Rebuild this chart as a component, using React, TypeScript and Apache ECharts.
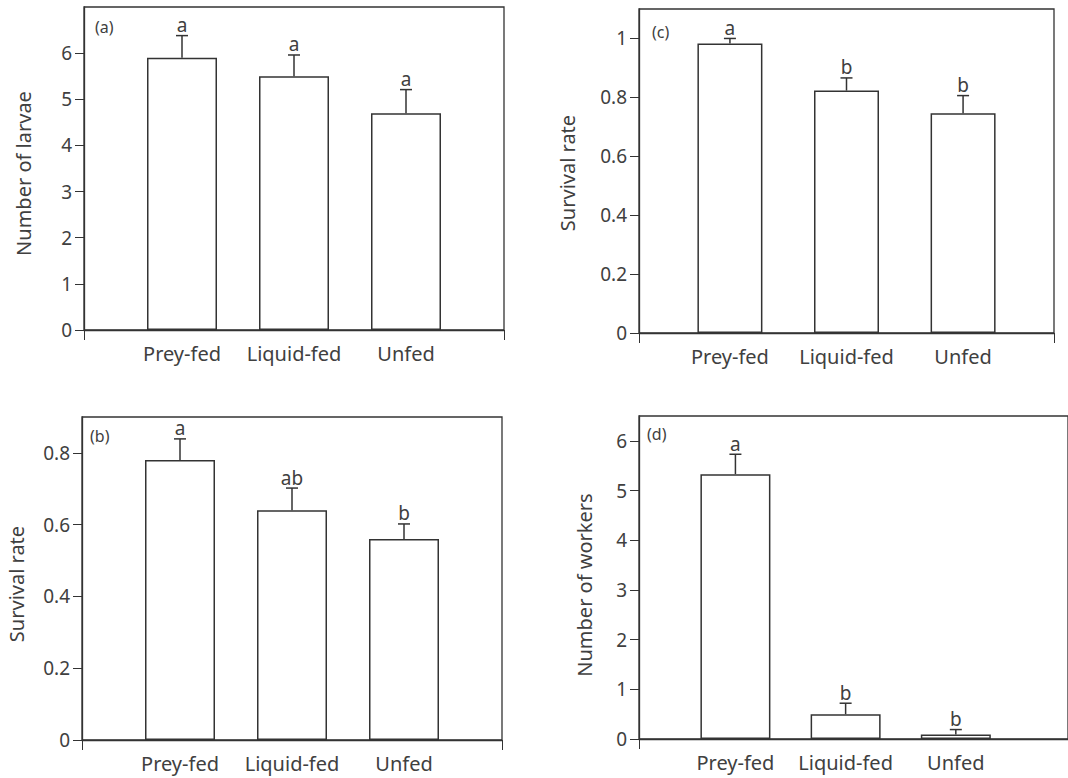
import React, { useEffect, useRef } from "react";
import * as echarts from "echarts";

const categories = ["Prey-fed", "Liquid-fed", "Unfed"];
const positions = [1, 2, 3];

// (a) Number of larvae
const larvaeMean = [5.9, 5.5, 4.7];
const larvaeUpper = [6.38, 5.96, 5.21];
const larvaeLetters = ["a", "a", "a"];
const larvaeTicks = [0, 1, 2, 3, 4, 5, 6];

// (b) Survival rate
const survivalBMean = [0.78, 0.64, 0.56];
const survivalBUpper = [0.839, 0.702, 0.602];
const survivalBLetters = ["a", "ab", "b"];
const survivalBTicks = [0, 0.2, 0.4, 0.6, 0.8];

// (c) Survival rate
const survivalCMean = [0.983, 0.823, 0.746];
const survivalCUpper = [1.0, 0.866, 0.806];
const survivalCLetters = ["a", "b", "b"];
const survivalCTicks = [0, 0.2, 0.4, 0.6, 0.8, 1];

// (d) Number of workers
const workersMean = [5.33, 0.5, 0.09];
const workersUpper = [5.73, 0.72, 0.19];
const workersLetters = ["a", "b", "b"];
const workersTicks = [0, 1, 2, 3, 4, 5, 6];

const FONT = "Noto Sans";
const TEXT = "#404040";
const LINE = "#333333";

const panels = [
  {
    label: "(a)", labelPos: [95, 27], yName: "Number of larvae", nameGap: 51, namePad: 10,
    mean: larvaeMean, upper: larvaeUpper, letters: larvaeLetters, ticks: larvaeTicks,
    yMax: 7, xMin: 0.125, xMax: 3.875, barWidth: 70,
    grid: { left: 84, top: 7, width: 420, height: 323 },
  },
  {
    label: "(c)", labelPos: [652, 32], yName: "Survival rate", nameGap: 62, namePad: 4,
    mean: survivalCMean, upper: survivalCUpper, letters: survivalCLetters, ticks: survivalCTicks,
    yMax: 1.1, xMin: 0.22, xMax: 3.78, barWidth: 65,
    grid: { left: 639, top: 9, width: 415, height: 324 },
  },
  {
    label: "(b)", labelPos: [90, 436], yName: "Survival rate", nameGap: 56, namePad: 11,
    mean: survivalBMean, upper: survivalBUpper, letters: survivalBLetters, ticks: survivalBTicks,
    yMax: 0.9, xMin: 0.125, xMax: 3.875, barWidth: 70,
    grid: { left: 82, top: 417, width: 420, height: 323 },
  },
  {
    label: "(d)", labelPos: [647, 434], yName: "Number of workers", nameGap: 45, namePad: 15,
    mean: workersMean, upper: workersUpper, letters: workersLetters, ticks: workersTicks,
    yMax: 6.5, xMin: 0.125, xMax: 4.018, barWidth: 70,
    grid: { left: 639, top: 416, width: 436, height: 323 },
  },
];

export default function App() {
  const ref = useRef<HTMLDivElement>(null);

  useEffect(() => {
    if (!ref.current) return;
    const chart = echarts.init(ref.current, null, { renderer: "svg" });

    const grid: any[] = [];
    const xAxis: any[] = [];
    const yAxis: any[] = [];
    const series: any[] = [];
    const graphic: any[] = [];

    panels.forEach((p, i) => {
      grid.push({
        ...p.grid,
        show: true,
        borderColor: LINE,
        borderWidth: 1.3,
        backgroundColor: "#ffffff",
        containLabel: false,
      });
      xAxis.push({
        type: "value",
        gridIndex: i,
        min: p.xMin,
        max: p.xMax,
        splitLine: { show: false },
        axisLine: { show: true, lineStyle: { color: LINE, width: 1.3 } },
        axisTick: {
          show: true,
          length: 10,
          customValues: [p.xMin, p.xMax],
          lineStyle: { color: LINE, width: 1 },
        },
        axisLabel: {
          show: true,
          customValues: positions,
          formatter: (v: number) => categories[Math.round(v) - 1] ?? "",
          margin: 13,
          fontSize: 20,
          color: TEXT,
          fontFamily: FONT,
        },
      });
      yAxis.push({
        type: "value",
        gridIndex: i,
        min: 0,
        max: p.yMax,
        name: p.yName,
        nameLocation: "middle",
        nameRotate: 90,
        nameGap: p.nameGap,
        nameTextStyle: {
          fontSize: 20,
          color: TEXT,
          fontFamily: FONT,
          padding: [0, p.namePad, 0, 0],
        },
        splitLine: { show: false },
        axisLine: { show: true, lineStyle: { color: LINE, width: 1.3 } },
        axisTick: {
          show: true,
          length: 9,
          customValues: p.ticks,
          lineStyle: { color: LINE, width: 1 },
        },
        axisLabel: {
          show: true,
          customValues: p.ticks,
          formatter: (v: number) => String(Math.round(v * 10) / 10),
          margin: 12,
          fontSize: 19,
          color: TEXT,
          fontFamily: FONT,
        },
      });
      series.push({
        type: "bar",
        xAxisIndex: i,
        yAxisIndex: i,
        barWidth: p.barWidth,
        data: positions.map((x, k) => [x, p.mean[k]]),
        itemStyle: { color: "#ffffff", borderColor: LINE, borderWidth: 1.5 },
        z: 2,
      });
      const letters = p.letters;
      series.push({
        type: "custom",
        xAxisIndex: i,
        yAxisIndex: i,
        z: 3,
        data: positions.map((x, k) => [x, p.mean[k], p.upper[k]]),
        encode: { x: 0, y: [1, 2] },
        renderItem: (params: any, api: any) => {
          const x = api.value(0);
          const m = api.value(1);
          const u = api.value(2);
          const base = api.coord([x, m]);
          const top = api.coord([x, u]);
          const st = { stroke: LINE, lineWidth: 1.5 };
          return {
            type: "group",
            children: [
              { type: "line", shape: { x1: base[0], y1: base[1], x2: top[0], y2: top[1] }, style: st },
              { type: "line", shape: { x1: top[0] - 6, y1: top[1], x2: top[0] + 6, y2: top[1] }, style: st },
              {
                type: "text",
                x: top[0],
                y: top[1] - 1,
                style: {
                  text: letters[params.dataIndex],
                  align: "center",
                  verticalAlign: "bottom",
                  fontSize: 19,
                  fill: TEXT,
                  fontFamily: FONT,
                },
              },
            ],
          };
        },
      });
      graphic.push({
        type: "text",
        x: p.labelPos[0],
        y: p.labelPos[1],
        z: 10,
        style: {
          text: p.label,
          verticalAlign: "middle",
          fontSize: 16,
          fill: TEXT,
          fontFamily: FONT,
        },
      });
    });

    chart.setOption({
      animation: false,
      backgroundColor: "#ffffff",
      grid,
      xAxis,
      yAxis,
      series,
      graphic,
    });

    return () => chart.dispose();
  }, []);

  return (
    <div
      ref={ref}
      style={{ position: "absolute", left: 0, top: 0, width: 1068, height: 778 }}
    />
  );
}
